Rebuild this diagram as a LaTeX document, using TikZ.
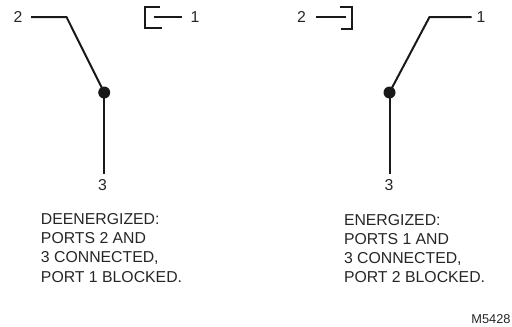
\documentclass[tikz,border=0pt]{standalone}
\usepackage{fontspec}
\setmainfont{Liberation Sans}
\tikzset{
  lbl/.style={inner sep=0pt,outer sep=0pt,font=\fontsize{15.8}{15.8}\selectfont,text=black!85},
  captext/.style={lbl,anchor=base west},
  num/.style={lbl,anchor=base},
  wire/.style={draw=black!90,line width=2pt,line join=miter,line cap=butt},
  thinwire/.style={wire,line width=1.8pt},
  dotnode/.style={circle,fill=black!90,inner sep=0pt,minimum size=12pt}
}
\begin{document}
\begin{tikzpicture}[x=1pt,y=-1pt]
\useasboundingbox (0,0) rectangle (512,327);
% left switch
\node[num] (L2) at (18,22.5) {2};
\node[num] (L1) at (195,22.5) {1};
\node[num] (L3) at (102.5,190) {3};
\node[dotnode] (Ld) at (104.2,92.5) {};
\coordinate (La) at (31,17);
\coordinate (Lb) at (66.5,17);
\coordinate (Lc) at (104,174);
\draw[wire] (La) -- (Lb) -- (Ld.center);
\draw[wire] (Ld.center) -- (Ld.center |- Lc);
\coordinate (Lp) at (160,7);
\coordinate (Lq) at (145,7);
\coordinate (Lr) at (145,28);
\coordinate (Ls) at (161.5,28);
\draw[wire] (Lp) -- (Lq) -- (Lr) -- (Ls);
\coordinate (Lt) at (153.5,17);
\coordinate (Lu) at (181.5,17);
\draw[thinwire] (Lt) -- (Lu);
% right switch
\node[num] (R2) at (301.5,22.5) {2};
\node[num] (R1) at (481,22) {1};
\node[num] (R3) at (389,190.5) {3};
\node[dotnode] (Rd) at (389.5,92.5) {};
\coordinate (Ra) at (471.5,17);
\coordinate (Rb) at (429.5,17);
\coordinate (Rc) at (389,174);
\draw[wire] (Ra) -- (Rb) -- (Rd.center);
\draw[wire] (Rd.center) -- (Rd.center |- Rc);
\coordinate (Rp) at (340,7);
\coordinate (Rq) at (351.5,7);
\coordinate (Rr) at (351.5,28.5);
\coordinate (Rs) at (340.5,28.5);
\draw[wire] (Rp) -- (Rq) -- (Rr) -- (Rs);
\coordinate (Rt) at (315.5,17);
\coordinate (Ru) at (346,17);
\draw[thinwire] (Rt) -- (Ru);
% captions
\node[captext] (A1) at (41,224.2) {DEENERGIZED:};
\node[captext] (A2) at (41,243.5) {PORTS 2 AND};
\node[captext] (A3) at (41,262.7) {3 CONNECTED,};
\node[captext] (A4) at (41,282.2) {PORT 1 BLOCKED.};
\node[captext] (B1) at (344,225.2) {ENERGIZED:};
\node[captext] (B2) at (344,244.5) {PORTS 1 AND};
\node[captext] (B3) at (344,263.7) {3 CONNECTED,};
\node[captext] (B4) at (344,282.2) {PORT 2 BLOCKED.};
\node[lbl,anchor=base east,font=\fontsize{12.8}{12.8}\selectfont] (M) at (510.5,323) {M5428};
\end{tikzpicture}
\end{document}
